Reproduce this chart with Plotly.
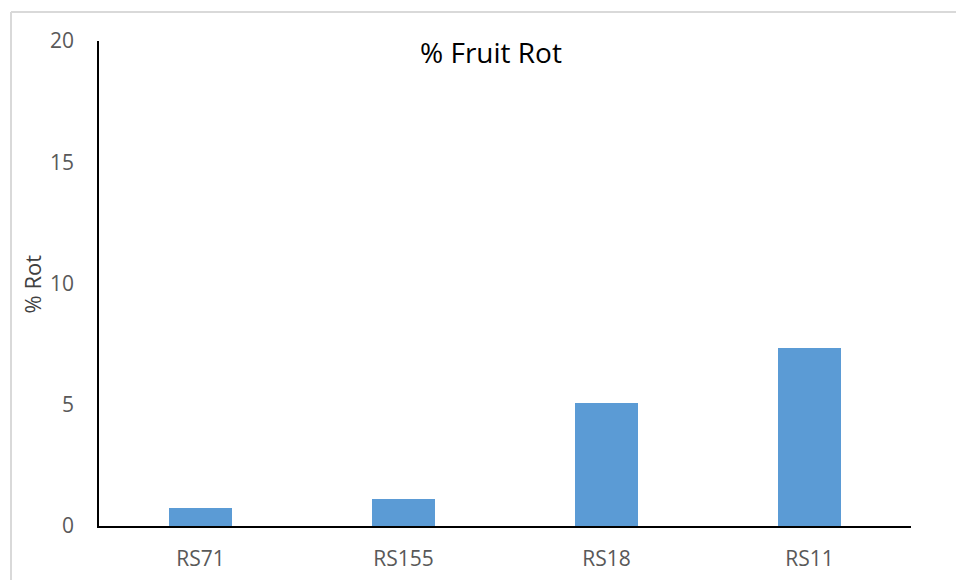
import plotly.graph_objects as go

# Fruit rot percentage per selection
selections = ["RS71", "RS155", "RS18", "RS11"]
rot_pct = [0.73, 1.1, 5.08, 7.35]
y_ticks = [0, 5, 10, 15, 20]

W, H = 956, 580
ML, MR, MT, MB = 99, 45, 41, 54
PW, PH = W - ML - MR, H - MT - MB

FONT = "Open Sans"

fig = go.Figure(
    go.Bar(
        x=selections,
        y=rot_pct,
        marker=dict(color="#5B9BD5", line=dict(width=0)),
        width=0.315,
    )
)

def px_x(px):
    return (px - ML) / PW

def px_y(py):
    return (H - MB - py) / PH

# light frame along the top and left edges of the chart area
frame = dict(color="#D9D9D9", width=2)
shapes = [
    dict(type="line", xref="paper", yref="paper",
         x0=px_x(11), x1=px_x(W + 5), y0=px_y(12), y1=px_y(12), line=frame),
    dict(type="line", xref="paper", yref="paper",
         x0=px_x(11), x1=px_x(11), y0=px_y(12), y1=px_y(H + 5), line=frame),
]

fig.update_layout(
    width=W, height=H,
    margin=dict(l=ML, r=MR, t=MT, b=MB, pad=0, autoexpand=False),
    paper_bgcolor="white", plot_bgcolor="white",
    showlegend=False,
    bargap=0,
    title=dict(
        text="% Fruit Rot",
        x=491 / W, xref="container", xanchor="center",
        y=1 - 53 / H, yref="container", yanchor="middle",
        font=dict(family=FONT, size=28, color="#000000"),
    ),
    xaxis=dict(
        automargin=False,
        showline=True, linecolor="#000000", linewidth=1.5,
        showgrid=False, zeroline=False, ticks="",
        ticklabelstandoff=13,
        tickfont=dict(family=FONT, size=21, color="#595959"),
    ),
    yaxis=dict(
        automargin=False,
        range=[0, 20], tickvals=y_ticks,
        showline=True, linecolor="#000000", linewidth=1.5,
        showgrid=False, zeroline=False, ticks="",
        ticklabelstandoff=19,
        tickfont=dict(family=FONT, size=21, color="#595959"),
    ),
    shapes=shapes,
    annotations=[
        dict(
            text="% Rot", textangle=-90,
            xref="paper", yref="paper",
            x=px_x(31.5), y=px_y(284),
            xanchor="center", yanchor="middle", showarrow=False,
            font=dict(family=FONT, size=22, color="#404040"),
        )
    ],
)

fig.write_html("out.html")
